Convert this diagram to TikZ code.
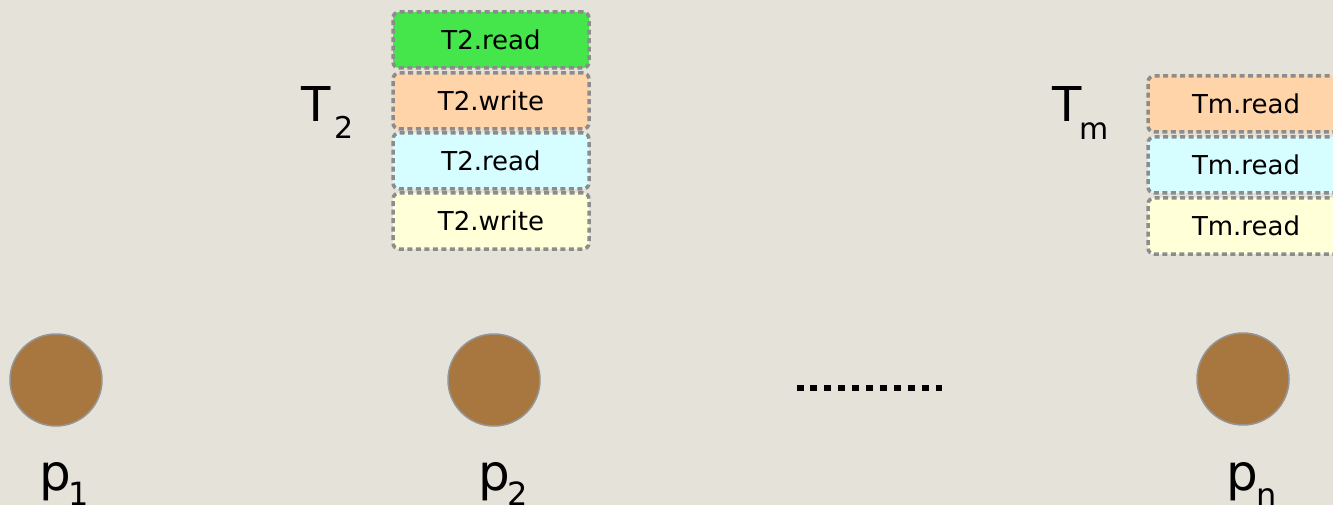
\documentclass[tikz,border=0pt]{standalone}
\usepackage{fontspec}
\setmainfont{DejaVu Sans}
\definecolor{bg}{HTML}{E5E2DA}
\definecolor{cgreen}{HTML}{45E64C}
\definecolor{corange}{HTML}{FFD4A9}
\definecolor{ccyan}{HTML}{D6FDFF}
\definecolor{cyellow}{HTML}{FFFFD8}
\definecolor{cbrown}{HTML}{A8773F}
\definecolor{cborder}{HTML}{8C8C8C}
\definecolor{cring}{HTML}{959595}
\tikzset{
  opbox/.style={draw=cborder, line width=3.5pt, dash pattern=on 5pt off 3.5pt,
    rounded corners=6pt, minimum width=196pt, minimum height=56pt, inner sep=0pt,
    font=\fontsize{26}{26}\selectfont, text=black},
  proc/.style={circle, fill=cbrown, draw=cring, line width=1.5pt, minimum size=92pt, inner sep=0pt},
  plabel/.style={font=\fontsize{50}{50}\selectfont, inner sep=0pt, anchor=base},
  psub/.style={font=\fontsize{32}{32}\selectfont, inner sep=0pt, anchor=base},
  tlabel/.style={font=\fontsize{48}{48}\selectfont, inner sep=0pt, anchor=base},
  tsub/.style={font=\fontsize{30}{30}\selectfont, inner sep=0pt, anchor=base},
}
\begin{document}
\begin{tikzpicture}[x=1pt, y=-1pt]
\path[fill=bg, use as bounding box] (0,0) rectangle (1333,505);
\clip (0,0) rectangle (1333,505);
% T2 stack
\node[opbox, fill=cgreen] (a1) at (491,40) {T2.read};
\node[opbox, fill=corange] (a2) at (491,101) {T2.write};
\node[opbox, fill=ccyan] (a3) at (491,161) {T2.read};
\node[opbox, fill=cyellow] (a4) at (491,221) {T2.write};
% Tm stack
\node[opbox, fill=corange] (b1) at (1246,104) {Tm.read};
\node[opbox, fill=ccyan] (b2) at (1246,165) {Tm.read};
\node[opbox, fill=cyellow] (b3) at (1246,226) {Tm.read};
% T labels
\node[tlabel] (t2) at (316,122) {T};
\node[tsub] (t2s) at (344,139) {2};
\node[tlabel] (tm) at (1067,122) {T};
\node[tsub] (tms) at (1094,140) {m};
% processes
\node[proc] (p1) at (56,380) {};
\node[proc] (p2) at (494,380) {};
\node[proc] (pn) at (1243,379) {};
\node[plabel] (l1) at (55,490) {p};
\node[psub] (l1s) at (79,505) {1};
\node[plabel] (l2) at (494,490) {p};
\node[psub] (l2s) at (518,505) {2};
\node[plabel] (ln) at (1242,490) {p};
\node[psub] (lns) at (1267,506) {n};
% dots
\coordinate (d0) at (796.5,388);
\coordinate (d1) at (942,388);
\draw[line width=6.5pt, dash pattern=on 7pt off 6.9pt] (d0) -- (d1);
\end{tikzpicture}
\end{document}
